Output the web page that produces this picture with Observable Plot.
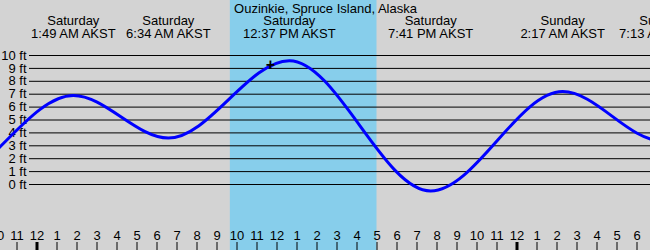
<!DOCTYPE html>
<html>
<head>
<meta charset="utf-8">
<script src="https://cdn.jsdelivr.net/npm/d3@7"></script>
<script src="https://cdn.jsdelivr.net/npm/@observablehq/plot@0.6"></script>
<style>
  html, body { margin: 0; padding: 0; background: #d3d3d3; overflow: hidden; }
  svg { overflow: hidden; display: block; }
</style>
</head>
<body>
<div id="chart"></div>
<script>
// Hours measured from Saturday 00:00 AKST
const title = "Ouzinkie, Spruce Island, Alaska";
// Tide extremes (first two and last are just outside the visible window)
const tideHours   = [-11.2, -4.83, 1.817, 6.567, 12.617, 19.683, 26.283, 31.217, 37.33];
const tideHeights = [9.4,   0.0,   6.9,   3.6,   9.6,    -0.5,   7.2,    3.4,    9.5];
// Labelled extremes
const labelHours = [1.817, 6.567, 12.617, 19.683, 26.283, 31.217];
const labelDays  = ["Saturday", "Saturday", "Saturday", "Saturday", "Sunday", "Sunday"];
const labelTimes = ["1:49 AM AKST", "6:34 AM AKST", "12:37 PM AKST", "7:41 PM AKST", "2:17 AM AKST", "7:13 AM AKST"];
// Daylight band
const sunrise = 9.667, sunset = 17.0;
// Current time marker
const nowHour = 11.675, nowHeight = 9.28;
// Axis ticks
const feetTicks = [0, 1, 2, 3, 4, 5, 6, 7, 8, 9, 10];
const hourTicks = d3.range(-2, 31);
const midnightTicks = [0, 24];

const tide = tideHours.map((h, i) => ({h, v: tideHeights[i]}));
const labels = labelHours.map((h, i) => ({h, text: labelDays[i] + "\n" + labelTimes[i]}));
const hourLabel = h => String(((h % 12) + 12) % 12 || 12);

const font = "Liberation Sans, Arial, sans-serif";

const plot = Plot.plot({
  width: 650,
  height: 250,
  margin: 0,
  style: {background: "#d3d3d3", fontFamily: font, fontSize: "13px", color: "black"},
  x: {type: "linear", domain: [-1.825, 30.675], range: [0, 650], axis: null},
  y: {type: "linear", domain: [0, 10], range: [184, 55], axis: null},
  marks: [
    Plot.rect([{x1: sunrise, x2: sunset}], {x1: "x1", x2: "x2", fill: "#87ceeb"}),
    Plot.ruleY(feetTicks, {y: d => d, stroke: "black", strokeWidth: 1, insetLeft: 29}),
    Plot.text(feetTicks, {y: d => d, text: d => d + " ft", frameAnchor: "left", textAnchor: "end", dx: 26, fill: "black", fontSize: 13}),
    Plot.line(tide, {x: "h", y: "v", curve: "monotone-x", stroke: "blue", strokeWidth: 3, clip: true}),
    Plot.text([nowHour], {x: d => d, y: () => nowHeight, text: () => "+", fontSize: 16, fontWeight: "bold", fill: "black"}),
    Plot.text([title], {text: d => d, frameAnchor: "top", lineAnchor: "top", dy: 3, fill: "black", fontSize: 13}),
    Plot.text(labels, {x: "h", text: "text", frameAnchor: "top", lineAnchor: "top", dy: 15, lineHeight: 1, fill: "black", fontSize: 13}),
    Plot.ruleX(hourTicks, {x: d => d, insetTop: 242, stroke: "black", strokeWidth: 1}),
    Plot.ruleX(midnightTicks, {x: d => d, insetTop: 242, stroke: "black", strokeWidth: 3}),
    Plot.text(hourTicks, {x: d => d, text: hourLabel, frameAnchor: "bottom", lineAnchor: "middle", dy: -14.5, fill: "black", fontSize: 13})
  ]
});
document.getElementById("chart").append(plot);
</script>
</body>
</html>
